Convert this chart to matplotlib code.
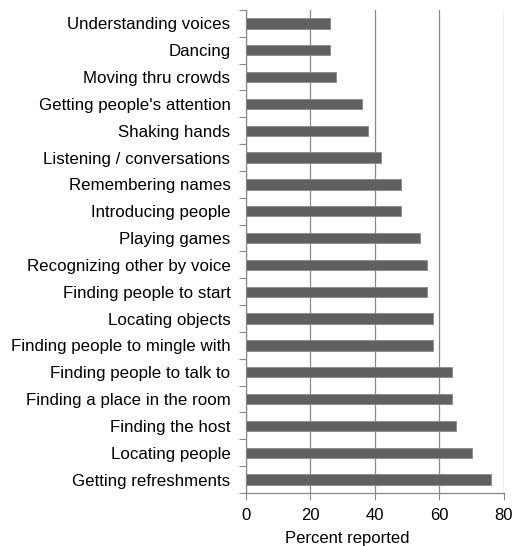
import matplotlib.pyplot as plt
import numpy as np

plt.rcParams['font.family'] = ['Liberation Sans', 'DejaVu Sans']

# categories listed bottom to top
activities = ['Getting refreshments', 'Locating people', 'Finding the host',
              'Finding a place in the room', 'Finding people to talk to',
              'Finding people to mingle with', 'Locating objects',
              'Finding people to start', 'Recognizing other by voice',
              'Playing games', 'Introducing people', 'Remembering names',
              'Listening / conversations', 'Shaking hands',
              "Getting people's attention", 'Moving thru crowds', 'Dancing',
              'Understanding voices']
percent = [76, 70, 65, 64, 64, 58, 58, 56, 56, 54, 48, 48, 42, 38, 36, 28, 26, 26]
xticks = [0, 20, 40, 60, 80]

fig = plt.figure(figsize=(5.22, 5.46), dpi=100)
ax = fig.add_axes([0.4707, 0.0971, 0.4948, 0.8846])

y = np.arange(len(activities))
ax.barh(y, percent, height=0.38, color='#606060', edgecolor='#8a8a8a',
        linewidth=0.6, zorder=3)

ax.set_xlim(0, 80)
ax.set_ylim(-0.5, len(activities) - 0.5)
ax.set_xticks(xticks)
ax.set_yticks(y)
ax.set_yticklabels(activities, fontsize=12.2)
ax.set_yticks(np.arange(-0.5, len(activities), 1), minor=True)
ax.tick_params(axis='y', which='major', length=0, pad=11)
ax.tick_params(axis='y', which='minor', length=5, color='#888888', width=0.8)
ax.tick_params(axis='x', length=5, color='#888888', width=0.8, labelsize=12, pad=6)
ax.grid(axis='x', color='#888888', linewidth=0.9, zorder=0)

# axis title sits a little left of the plot centre, as in the original
ax.set_xlabel('Percent reported', fontsize=12)
ax.xaxis.set_label_coords(0.394, -0.079)

for side in ['top', 'right']:
    ax.spines[side].set_visible(False)
for side in ['left', 'bottom']:
    ax.spines[side].set_color('#888888')
    ax.spines[side].set_linewidth(0.9)

fig.savefig('out.png', dpi=100)
